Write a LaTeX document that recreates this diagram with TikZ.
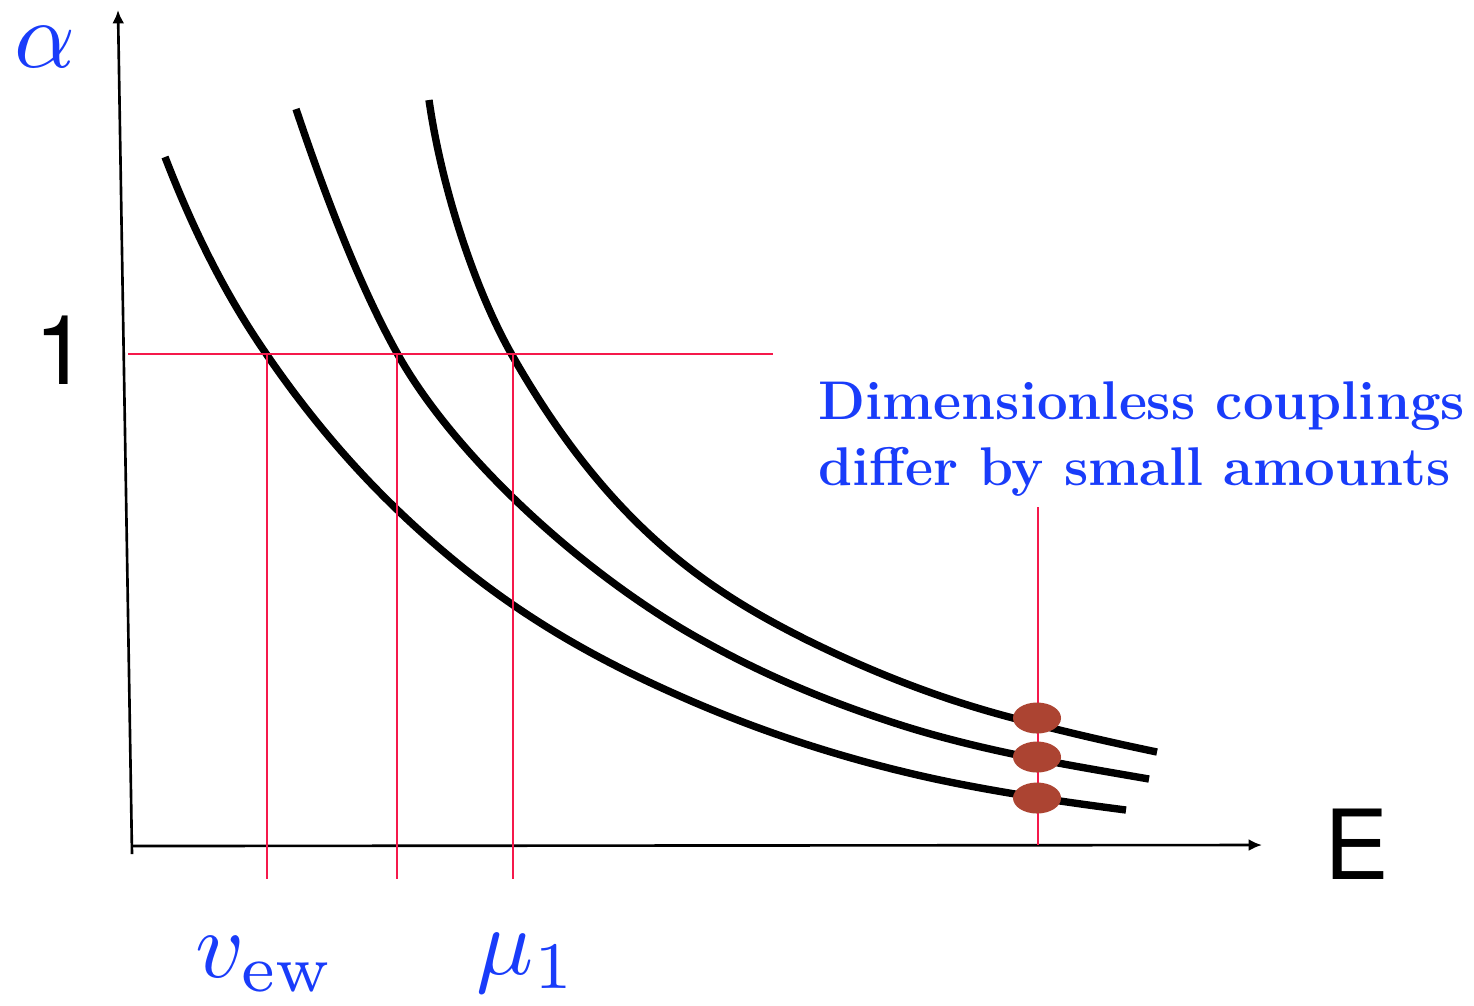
\documentclass[tikz,border=0pt]{standalone}
\usepackage{fontspec}
\newfontfamily\heros{TeX Gyre Heros}
\usepackage{xcolor}
\usepackage{tikz}
\usetikzlibrary{positioning, arrows.meta, calc, shapes.geometric}
\definecolor{guideRed}{RGB}{245,25,75}
\definecolor{labelBlue}{RGB}{25,60,250}
\definecolor{blobBrown}{RGB}{172,68,50}

\begin{document}
\begin{tikzpicture}[
    x=0.01cm, y=-0.01cm,
    every node/.style={text=black, inner sep=0pt},
    axis/.style={black, line width=0.75pt, -{Latex[length=3.8pt, width=3.4pt]}},
    flow/.style={black, line width=2.1pt},
    guide/.style={guideRed, line width=0.7pt},
    blob/.style={ellipse, fill=blobBrown, minimum width=0.48cm, minimum height=0.31cm},
    mathlabel/.style={text=labelBlue, font=\normalsize, scale=2.7},
    sanslabel/.style={font=\heros\fontsize{27.5}{30}\selectfont},
]
% Canvas: pixel grid, x in [0, 1474], y in [0, 1005] (downwards)
\useasboundingbox (0,0) rectangle (1474,1005);

% --- Axes ---
\coordinate (ybot) at (132,854);
\coordinate (ytop) at (118,10);
\coordinate (xbeg) at (132,846);
\coordinate (xend) at (1262,845);
\draw[axis] (ybot) -- (ytop);
\draw[axis] (xbeg) -- (xend);

\node[mathlabel, anchor=base west] (alpha) at (13,67) {$\alpha$};
\node[sanslabel] (one) at (61,350) {1};
\node[sanslabel] (E) at (1357,844) {E};

% --- Running couplings (piecewise cubic, tangents matched at the knots) ---
\draw[flow] (165,157)
    .. controls (199,245) and (233,306) .. (267,355)
    .. controls (328,444) and (389,506) .. (450,557)
    .. controls (524,619) and (599,660) .. (673,693)
    .. controls (762,733) and (851,761) .. (940,780)
    .. controls (1002,793) and (1064,802) .. (1126,810);
\draw[flow] (296,109)
    .. controls (330,210) and (363,292) .. (397,353)
    .. controls (456,459) and (589,579) .. (707,643)
    .. controls (774,680) and (840,706) .. (907,727)
    .. controls (988,752) and (1068,765) .. (1149,779);
\draw[flow] (429,100)
    .. controls (441.5,188) and (475,290) .. (512,355)
    .. controls (610,527) and (709,591) .. (807,640)
    .. controls (876,674) and (944,700) .. (1013,718)
    .. controls (1061,731) and (1109,742) .. (1157,752);

% --- Guide lines ---
\coordinate (hbeg) at (128,354);
\coordinate (hend) at (773,354);
\draw[guide] (hbeg) -- (hend);
\foreach \x in {267, 397, 513} {
    \draw[guide] (\x,354) -- (\x,879);
}
\coordinate (mtop) at (1038,507);
\coordinate (mbot) at (1038,845);
\draw[guide] (mtop) -- (mbot);

% --- Points where the couplings are compared ---
\node[blob] (top) at (1037,718) {};
\node[blob] (mid) at (1037,757) {};
\node[blob] (low) at (1037,798) {};

\node[anchor=west, align=left, text=labelBlue, font=\bfseries\fontsize{15.5}{18.6}\selectfont]
    (note) at (818,439) {Dimensionless couplings\\differ by small amounts};

\node[mathlabel, anchor=base west] (vew) at (194,977) {$v_{\rm ew}$};
\node[mathlabel, anchor=base west] (mu) at (475,974) {$\mu_1$};

\end{tikzpicture}
\end{document}
